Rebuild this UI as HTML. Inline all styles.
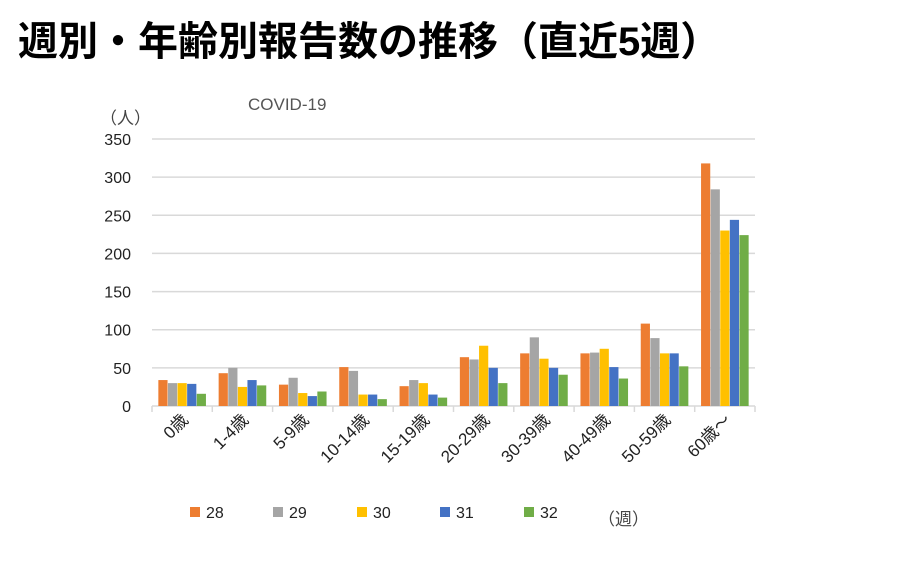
<!DOCTYPE html>
<html><head><meta charset="utf-8"><style>
body{margin:0;background:#fff;width:900px;height:580px;overflow:hidden;font-family:"Liberation Sans","Noto Sans CJK JP",sans-serif}
</style></head><body>
<svg id="c" width="900" height="580" xmlns="http://www.w3.org/2000/svg">
<text x="18" y="55" font-size="40" font-weight="bold" fill="#000" font-family="Liberation Sans,Noto Sans CJK JP,sans-serif">週別・年齢別報告数の推移（直近5週）</text>
<text x="248" y="110" font-size="17" fill="#555">COVID-19</text>
<text x="100" y="124" font-size="17" fill="#444" font-family="Liberation Sans,Noto Sans CJK JP,sans-serif">（人）</text>
<g id="grid"></g><g id="bars"></g><g id="axis"></g>
<text x="598" y="525" font-size="17" fill="#444" font-family="Liberation Sans,Noto Sans CJK JP,sans-serif">（週）</text>
</svg>
<script>
const categories=["0歳","1-4歳","5-9歳","10-14歳","15-19歳","20-29歳","30-39歳","40-49歳","50-59歳","60歳～"];
const seriesNames=["28","29","30","31","32"];
const colors=["#ed7d31","#a5a5a5","#ffc000","#4472c4","#70ad47"];
const w28=[34,43,28,51,26,64,69,69,108,318];
const w29=[30,50,37,46,34,61,90,70,89,284];
const w30=[30,25,17,15,30,79,62,75,69,230];
const w31=[29,34,13,15,15,50,50,51,69,244];
const w32=[16,27,19,9,11,30,41,36,52,224];
const yTicks=[0,50,100,150,200,250,300,350];
const series=[w28,w29,w30,w31,w32];
const NS="http://www.w3.org/2000/svg";
const x0=152,x1=755,y0=406,yTop=139,yMax=350;
const y=v=>y0-(v/yMax)*(y0-yTop);
const bandW=(x1-x0)/categories.length;
const xb=i=>x0+i*bandW;
function mk(t,a,p){const e=document.createElementNS(NS,t);for(const k in a)e.setAttribute(k,a[k]);p.appendChild(e);return e;}
const grid=document.getElementById('grid'),bars=document.getElementById('bars'),axis=document.getElementById('axis'),svg=document.getElementById('c');
yTicks.forEach(t=>{
  const l=mk('line',{x1:x0,x2:x1,y1:y(t),y2:y(t),stroke:'#d9d9d9','stroke-width':1.5},grid);
  
  
  const tx=mk('text',{x:131,y:y(t)+6,'text-anchor':'end','font-size':16,fill:'#222'},axis);
  tx.textContent=t;
  
  
});
const bw=9.2,gap=0.4;
categories.forEach((c,i)=>{
  const start=xb(i)+bandW/2-(5*bw+4*gap)/2;
  series.forEach((s,j)=>{
    const r=mk('rect',{x:start+j*(bw+gap),y:y(s[i]),width:bw,height:y0-y(s[i]),fill:colors[j]},bars);
    
    
  });
  const tk=mk('line',{x1:xb(i),x2:xb(i),y1:y0,y2:y0+6,stroke:'#d9d9d9','stroke-width':1.5},axis);
  
  
  const cx=xb(i)+bandW/2+7,cy=421;
  const lb=mk('text',{x:cx,y:cy,'text-anchor':'end','font-size':17,fill:'#222',transform:`rotate(-45 ${cx} ${cy})`,'font-family':'Liberation Sans,Noto Sans CJK JP,sans-serif'},axis);
  lb.textContent=c;
  
  
});
const et=mk('line',{x1:x1,x2:x1,y1:y0,y2:y0+6,stroke:'#d9d9d9','stroke-width':1.5},axis);


const lx=[190,273,357,440,524];
seriesNames.forEach((n,j)=>{
  const r=mk('rect',{x:lx[j],y:507,width:10,height:10,fill:colors[j]},svg);
  
  
  const t=mk('text',{x:lx[j]+16,y:518,'font-size':16,fill:'#222'},svg);
  t.textContent=n;
  
  
});
</script>
</body></html>
